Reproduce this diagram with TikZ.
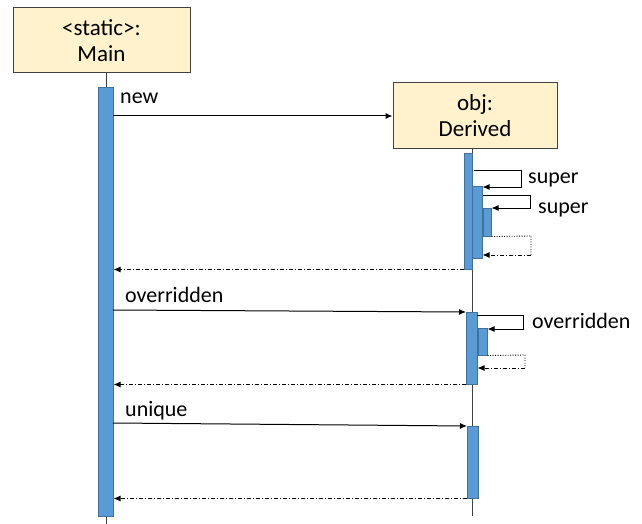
\documentclass[tikz,border=0pt]{standalone}
\usepackage{fontspec}
\setmainfont{Carlito}
\usetikzlibrary{arrows.meta}
\definecolor{boxfill}{HTML}{FFF2CC}
\definecolor{boxline}{HTML}{404040}
\definecolor{barfill}{HTML}{5B9BD5}
\definecolor{barline}{HTML}{41719C}
\begin{document}
\begin{tikzpicture}[x=1pt,y=-1pt,
  obj/.style={draw=boxline,fill=boxfill,line width=1pt,align=center,inner sep=0pt,
    font=\fontsize{23}{26}\selectfont},
  act/.style={draw=barline,fill=barfill,line width=0.5pt,inner sep=0pt,anchor=north west},
  life/.style={draw=boxline,line width=0.8pt},
  msg/.style={-{Latex[length=7pt,width=6pt]},line width=1pt},
  ret/.style={msg,dash pattern=on 4pt off 2pt on 1pt off 2pt},
  dotl/.style={line width=0.9pt,dash pattern=on 1pt off 1.5pt},
  lbl/.style={font=\fontsize{22}{24}\selectfont,anchor=base west,inner sep=0pt}
]
\useasboundingbox (0,0) rectangle (642,524);
% objects
\node[obj,minimum width=177pt,minimum height=65pt] (main) at (101.5,40.5) {<static>:\\Main};
\node[obj,minimum width=164pt,minimum height=65pt] (der) at (475,115.5) {obj:\\Derived};
% lifelines
\coordinate (mend) at (106,524);
\coordinate (dend) at (472,516);
\draw[life] (main.south -| mend) -- (mend);
\draw[life] (der.south -| dend) -- (dend);
% activation bars
\node[act,minimum width=15pt,minimum height=429pt] (mbar) at (98,87) {};
\node[act,minimum width=8pt,minimum height=116pt] (d1) at (464,153) {};
\node[act,minimum width=10pt,minimum height=72pt] (d2) at (472,186) {};
\node[act,minimum width=8pt,minimum height=28pt] (d3) at (483,208) {};
\node[act,minimum width=11pt,minimum height=72pt] (d4) at (466,312) {};
\node[act,minimum width=9pt,minimum height=27pt] (d5) at (478,328) {};
\node[act,minimum width=11pt,minimum height=72pt] (d6) at (467,426) {};
% new
\coordinate (n1) at (113,116);
\draw[msg] (n1) -- (der.west |- n1);
\node[lbl] (tnew) at (120,103) {new};
% super 1
\coordinate (s1a) at (474,170);
\coordinate (s1b) at (521,170);
\coordinate (s1c) at (521,187);
\draw[msg] (s1a) -- (s1b) -- (s1c) -- (d2.east |- s1c);
\node[lbl] (tsup1) at (528,183) {super};
% super 2
\coordinate (s2a) at (483,195);
\coordinate (s2b) at (530,195);
\coordinate (s2c) at (530,208);
\draw[msg] (s2a) -- (s2b) -- (s2c) -- (d3.east |- s2c);
\node[lbl] (tsup2) at (538,213) {super};
% return 2
\coordinate (r2b) at (531,236);
\coordinate (r2c) at (531,255);
\draw[dotl] (d3.south east) -- (r2b) -- (r2c);
\draw[ret] (r2c) -- (d2.east |- r2c);
% return to main
\draw[ret] (d1.south west) -- (mbar.east |- d1.south);
% overridden
\coordinate (o1) at (113,310);
\draw[msg] (o1) -- (d4.north west);
\node[lbl] (tov) at (125,302) {overridden};
\coordinate (o2a) at (477,315);
\coordinate (o2b) at (523,315);
\coordinate (o2c) at (523,329);
\draw[msg] (o2a) -- (o2b) -- (o2c) -- (d5.east |- o2c);
\node[lbl] (tov2) at (532,328) {overridden};
\coordinate (r5b) at (525,355);
\coordinate (r5c) at (525,368);
\draw[dotl] (d5.south east) -- (r5b) -- (r5c);
\draw[ret] (r5c) -- (d4.east |- r5c);
\draw[ret] (d4.south west) -- (mbar.east |- d4.south);
% unique
\coordinate (u1) at (113,423);
\draw[msg] (u1) -- (d6.north west);
\node[lbl] (tun) at (125,416) {unique};
\draw[ret] (d6.south west) -- (mbar.east |- d6.south);
\end{tikzpicture}
\end{document}
